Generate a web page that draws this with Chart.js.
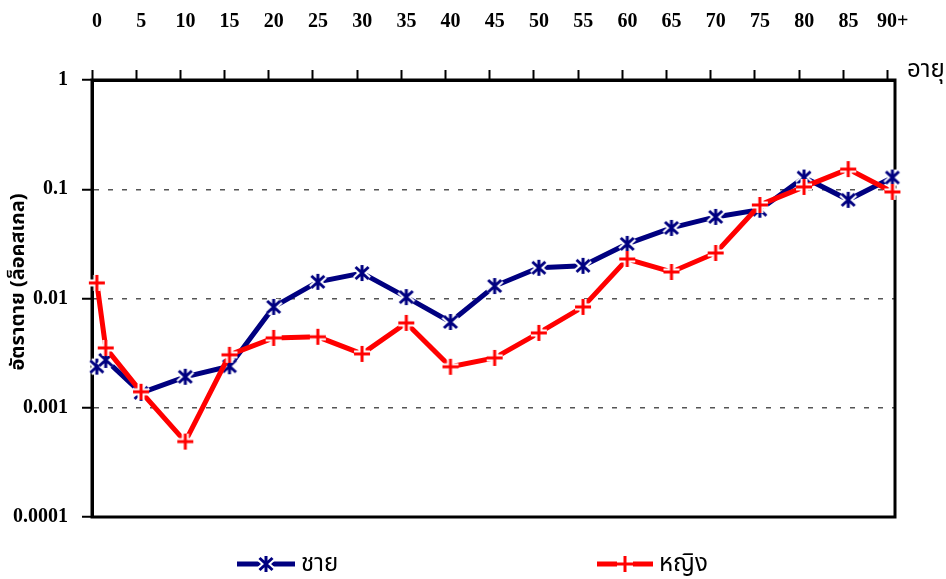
<!DOCTYPE html>
<html>
<head>
<meta charset="utf-8">
<script src="https://cdn.jsdelivr.net/npm/chart.js@4.4.1/dist/chart.umd.min.js"></script>
<style>
  html, body { margin: 0; padding: 0; background: #fff; }
  #wrap { width: 946px; height: 579px; position: relative; }
</style>
</head>
<body>
<div id="wrap"><canvas id="chart"></canvas></div>
<script>
// Age at each point (0, 1, 5, 10 ... 90+)
const ages = [0, 1, 5, 10, 15, 20, 25, 30, 35, 40, 45, 50, 55, 60, 65, 70, 75, 80, 85, 90];
const ageLabels = ["0", "5", "10", "15", "20", "25", "30", "35", "40", "45", "50", "55", "60", "65", "70", "75", "80", "85", "90+"];
const maleRates = [0.00238, 0.00274, 0.00137, 0.00192, 0.0024, 0.00838, 0.0142, 0.0171, 0.0103, 0.0061,
  0.0130, 0.0191, 0.0199, 0.0316, 0.0443, 0.0558, 0.065, 0.128, 0.080, 0.128];
const femaleRates = [0.0139, 0.00353, 0.0014, 0.00049, 0.00305, 0.00436, 0.00446, 0.00311, 0.00598, 0.00237,
  0.00286, 0.00484, 0.00838, 0.0230, 0.0175, 0.0261, 0.0718, 0.105, 0.153, 0.0945];
const yTicks = [0.0001, 0.001, 0.01, 0.1, 1];

const NAVY = "#000080";
const RED = "#ff0000";
const numFont = { family: "'Liberation Serif', 'Times New Roman', serif", size: 20, weight: "bold" };
const thaiFamily = "'Noto Sans Thai', 'Noto Serif Thai', 'Loma', 'Garuda', 'Noto Sans', sans-serif";

// Excel-like markers with a white halo so the line stops short of them
const makeMarker = (kind, color) => {
  const c = document.createElement("canvas");
  c.width = 24;
  c.height = 24;
  const g = c.getContext("2d");
  g.translate(12, 12);
  const r = 8;
  const segs = kind === "star"
    ? [[0, -r, 0, r], [-6.5, -6, 6.5, 6], [-6.5, 6, 6.5, -6]]
    : [[0, -r, 0, r], [-r, 0, r, 0]];
  [["#fff", 7], [color, 3]].forEach(([stroke, w]) => {
    g.strokeStyle = stroke;
    g.lineWidth = w;
    g.beginPath();
    segs.forEach(([a, b, c2, d]) => { g.moveTo(a, b); g.lineTo(c2, d); });
    g.stroke();
  });
  return c;
};
const starMarker = makeMarker("star", NAVY);
const plusMarker = makeMarker("plus", RED);

const framePlugin = {
  id: "frame",
  beforeDatasetsDraw(chart) {
    const { ctx, chartArea: a } = chart;
    ctx.save();
    ctx.strokeStyle = "#000";
    ctx.lineWidth = 3;
    ctx.strokeRect(a.left, a.top, a.right - a.left, a.bottom - a.top);
    ctx.restore();
  },
  afterDraw(chart) {
    const { ctx } = chart;
    ctx.save();
    // y axis title
    ctx.translate(20, 282);
    ctx.rotate(-Math.PI / 2);
    ctx.fillStyle = "#000";
    ctx.font = "bold 20px " + thaiFamily;
    ctx.textAlign = "center";
    ctx.textBaseline = "middle";
    ctx.fillText("อัตราตาย (ล็อคสเกล)", 0, 0);
    ctx.restore();

    ctx.save();
    ctx.fillStyle = "#000";
    ctx.font = "24px " + thaiFamily;
    ctx.textBaseline = "alphabetic";
    ctx.fillText("อายุ", 907, 77);

    // legend
    const items = [
      { text: "ชาย", color: NAVY, marker: starMarker, x0: 237, x1: 295 },
      { text: "หญิง", color: RED, marker: plusMarker, x0: 597, x1: 653 },
    ];
    const ly = 564;
    items.forEach((it) => {
      ctx.strokeStyle = it.color;
      ctx.lineWidth = 5;
      ctx.beginPath();
      ctx.moveTo(it.x0, ly);
      ctx.lineTo(it.x1, ly);
      ctx.stroke();
      const mx = (it.x0 + it.x1) / 2;
      ctx.drawImage(it.marker, mx - 12, ly - 12);
      ctx.fillStyle = "#000";
      ctx.font = "24px " + thaiFamily;
      ctx.textBaseline = "middle";
      ctx.fillText(it.text, it.x1 + 6, ly + 2);
    });
    ctx.restore();
  },
};

new Chart(document.getElementById("chart"), {
  type: "line",
  data: {
    datasets: [
      {
        label: "ชาย",
        data: ages.map((a, i) => ({ x: a, y: maleRates[i] })),
        borderColor: NAVY,
        backgroundColor: NAVY,
        borderWidth: 5,
        pointStyle: starMarker,
        pointRadius: 8,
        clip: false,
        order: 1,
      },
      {
        label: "หญิง",
        data: ages.map((a, i) => ({ x: a, y: femaleRates[i] })),
        borderColor: RED,
        backgroundColor: RED,
        borderWidth: 5,
        pointStyle: plusMarker,
        pointRadius: 8,
        clip: false,
        order: 0,
      },
    ],
  },
  options: {
    responsive: true,
    maintainAspectRatio: false,
    animation: false,
    devicePixelRatio: 1,
    layout: { padding: { left: 0, top: 0, right: 51, bottom: 62 } },
    plugins: {
      legend: { display: false },
      tooltip: { enabled: false },
    },
    scales: {
      x: {
        type: "linear",
        position: "top",
        min: -0.55,
        max: 90.29,
        afterBuildTicks: (s) => {
          s.ticks = ageLabels.map((_, i) => ({ value: i * 5 - 0.55 }));
        },
        afterFit: (s) => {
          s.height = 80;
        },
        ticks: {
          callback: (v, i) => ageLabels[i],
          labelOffset: 5,
          padding: 36,
          autoSkip: false,
          maxRotation: 0,
          font: numFont,
          color: "#000",
        },
        grid: { drawOnChartArea: false, tickLength: 10, tickWidth: 2, tickColor: "#000" },
        border: { width: 3, color: "#000" },
      },
      y: {
        type: "logarithmic",
        min: 0.0001,
        max: 1,
        afterBuildTicks: (s) => {
          s.ticks = yTicks.map((v) => ({ value: v }));
        },
        afterFit: (s) => {
          s.width = 92;
        },
        ticks: {
          callback: (v) => String(v),
          padding: 14,
          font: numFont,
          color: "#000",
        },
        grid: {
          color: (ctx) => (ctx.tick && (ctx.tick.value === 1 || ctx.tick.value === 0.0001) ? "rgba(0,0,0,0)" : "#555"),
          lineWidth: 1.5,
          tickLength: 10,
          tickWidth: 2,
          tickColor: "#000",
        },
        border: { width: 3, color: "#000", dash: [5, 9] },
      },
    },
  },
  plugins: [framePlugin],
});
</script>
</body>
</html>
